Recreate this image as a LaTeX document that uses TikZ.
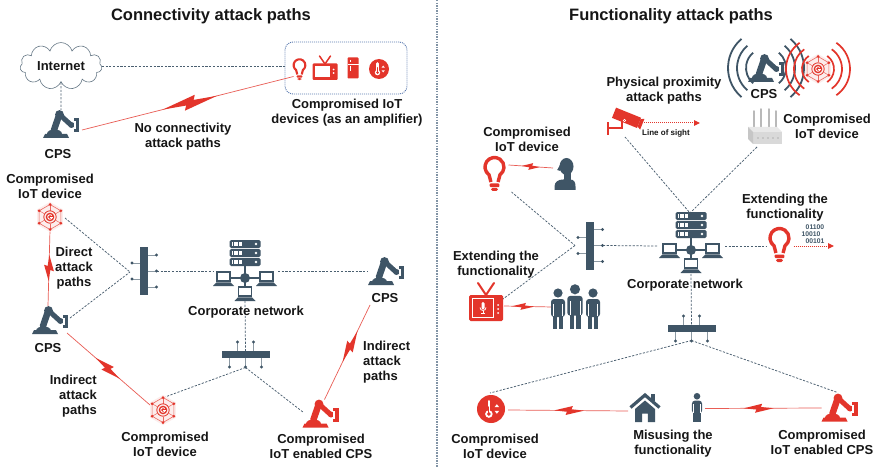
\documentclass[tikz,border=0pt]{standalone}
\usepackage{fontspec}
\setmainfont{Liberation Sans}
\usetikzlibrary{calc,shapes.symbols,arrows.meta}

\definecolor{slate}{HTML}{3F5566}
\definecolor{alarm}{HTML}{E3352B}
\definecolor{wire}{HTML}{4A5F70}
\definecolor{rule}{HTML}{8193A5}
\definecolor{frame}{HTML}{5B7BB0}
\definecolor{ink}{HTML}{161616}

\tikzset{
  lbl/.style={font=\fontsize{13}{15}\selectfont\bfseries, text=ink, align=center, inner sep=0pt},
  ttl/.style={font=\fontsize{16.5}{19}\selectfont\bfseries, text=ink, inner sep=0pt},
  small/.style={font=\fontsize{8}{9}\selectfont\bfseries, text=ink, inner sep=0pt},
  bits/.style={font=\fontsize{6.8}{8}\selectfont\bfseries, text=slate, inner sep=0pt},
  spot/.style args={#1x#2}{minimum width=#1, minimum height=#2, inner sep=0pt, outer sep=0pt},
  link/.style={draw=wire, line width=0.75pt, dash pattern=on 2.2pt off 1.5pt},
  zap/.style={draw=alarm!80, line width=0.7pt},
  sight/.style={draw=alarm, line width=1pt, dash pattern=on 1pt off 1pt, -{Triangle[length=6pt,width=5.5pt]}},
  divider/.style={draw=rule, line width=2.2pt, dash pattern=on 1.5pt off 1.1pt},
  % lightning bolt laid along a connector
  pics/bolt/.style args={#1/#2}{code={
    \fill[alarm] (-0.5*#1,0) -- (0.12*#1,-0.5*#2) -- (0.04*#1,0.18*#2) -- cycle;
    \fill[alarm] (0.5*#1,0) -- (-0.12*#1,0.5*#2) -- (-0.04*#1,-0.18*#2) -- cycle;
  }},
  % industrial robot arm
  pics/robot/.style={code={
    \fill[#1] (-18,14) -- (8,14) -- (6,10) -- (-16,10) -- cycle;
    \fill[#1] (-14.5,10.5) .. controls (-14.5,4.5) and (0.5,4.5) .. (0.5,10.5) -- cycle;
    \draw[#1, line width=6.5pt, line cap=round] (-7,6) -- (-2,-8.5);
    \fill[#1] (-1.5,-9.5) circle (4.4);
    \draw[#1, line width=5pt, line cap=round] (-1.5,-9.5) -- (10,1);
    \fill[#1] (10.5,1) circle (3);
    \fill[#1] (12.5,-5.5) rectangle (18,8);
    \fill[white] (12.5,-2.5) rectangle (14.8,5);
  }},
  % hexagonal IoT node
  pics/hexnode/.style={code={
    \fill[alarm!9] (90:15) -- (30:15) -- (-30:15) -- (-90:15) -- (-150:15) -- (150:15) -- cycle;
    \draw[alarm!75, line width=0.6pt] (90:12.5) -- (30:12.5) -- (-30:12.5) -- (-90:12.5) -- (-150:12.5) -- (150:12.5) -- cycle;
    \foreach \a in {90,30,-30,-90,-150,150}{
      \draw[alarm!75, line width=0.5pt] (\a:12.5) -- (\a:6.5);
      \fill[alarm] (\a:12.5) circle (1.5);
    }
    \draw[alarm, line width=0.8pt] (0,0) circle (6.2);
    \fill[alarm] (0,0) circle (4.3);
    \draw[white, line width=0.8pt] (20:2.3) arc[start angle=20, end angle=320, radius=2.3];
    \draw[white, line width=0.8pt] (-0.5,0) -- (2.8,0);
  }},
  % light bulb, argument = stroke width
  pics/bulb/.style={code={
    \draw[alarm, line width=#1, line join=round] (-3.6,8) -- (-5.45,0.78)
      arc[start angle=125, end angle=415, radius=9.5] -- (3.6,8);
    \fill[alarm, rounded corners=1pt] (-4.8,9.5) rectangle (4.8,13.2);
    \fill[alarm, rounded corners=1.5pt] (-3.4,13.8) rectangle (3.4,17);
  }},
  pics/tvset/.style={code={
    \draw[alarm, line width=1.5pt, line cap=round] (0,-7) -- (-5.5,-15) (0,-7) -- (5.5,-15);
    \fill[alarm, rounded corners=1pt] (-12.5,-7.5) rectangle (12.5,9);
    \fill[white] (-10,-4.5) rectangle (5,6.5);
    \fill[white] (8.6,-1.5) circle (0.9) (8.6,2) circle (0.9);
  }},
  pics/tvmic/.style={code={
    \draw[alarm, line width=2pt, line cap=round] (0,-13) -- (-8,-25) (0,-13) -- (8,-25);
    \fill[alarm, rounded corners=1.5pt] (-17,-13) rectangle (17,13);
    \draw[white, line width=1pt] (-13.5,-9.5) rectangle (7.5,9.5);
    \fill[white, rounded corners=1.4pt] (-4.5,-6) rectangle (-1.5,1.5);
    \draw[white, line width=0.8pt] (-6,-0.5) arc[start angle=180, end angle=0, radius=3];
    \draw[white, line width=0.8pt] (-3,2.5) -- (-3,5.5) (-5,5.5) -- (-1,5.5);
    \fill[white] (12,-3) circle (1) (12,1) circle (1) (12,5) circle (1);
  }},
  pics/fridge/.style={code={
    \fill[alarm, rounded corners=0.8pt] (-5.5,-10.5) rectangle (5.5,10.5);
    \draw[white, line width=0.8pt] (-5.5,-3.5) -- (5.5,-3.5);
    \draw[white, line width=0.9pt] (-3,-8) -- (-3,-5.5) (-3,-1.5) -- (-3,3);
  }},
  pics/thermo/.style={code={
    \fill[alarm] (0,0) circle (10);
    \draw[white, line width=2.8pt, line cap=round] (-1.5,-5.5) -- (-1.5,2);
    \fill[white] (-1.5,3.6) circle (2.7);
    \draw[alarm, line width=0.9pt, line cap=round] (-1.5,-1.5) -- (-1.5,3);
    \fill[alarm] (-1.5,3.6) circle (1.4);
    \fill[white] (4.2,-3.4) -- (5.8,-1.4) -- (2.6,-1.4) -- cycle;
    \fill[white] (4.2,3.4) -- (5.8,1.4) -- (2.6,1.4) -- cycle;
  }},
  % server rack with three laptops around a hub
  pics/corpnet/.style={code={
    \foreach \t in {-38,-29,-20}{
      \fill[slate, rounded corners=1.5pt] (-15.5,\t) rectangle (15.5,\t+8);
      \foreach \vv in {-12.5,-11.2,...,-3}{\draw[white, line width=0.45pt] (\vv,\t+2) -- (\vv,\t+6);}
      \fill[white] (11,\t+4) circle (1.4);
    }
    \draw[slate, line width=2.2pt] (0,-12) -- (0,9) (-15,0) -- (15,0);
    \fill[slate] (0,0) circle (5);
    \foreach \px/\py in {-21.5/-6, 21.5/-6, 0/9}{
      \draw[slate, fill=white, line width=1.2pt] (\px-6.5,\py) rectangle (\px+6.5,\py+9);
      \fill[slate] (\px-7,\py+10.3) -- (\px+7,\py+10.3) -- (\px+10.5,\py+14) -- (\px-10.5,\py+14) -- cycle;
    }
  }},
  pics/vswitch/.style={code={
    \foreach \py in {-16,0,16}{\draw[slate!60, line width=0.6pt] (4,\py) -- (12.5,\py); \fill[slate] (12.5,\py) circle (1.6);}
    \foreach \py in {-8,8}{\draw[slate!60, line width=0.6pt] (-4,\py) -- (-12,\py); \fill[slate] (-12,\py) circle (1.6);}
    \fill[slate] (-4,-24) rectangle (4,24);
  }},
  pics/hswitch/.style={code={
    \foreach \px in {-8,8}{\draw[slate!60, line width=0.6pt] (\px,-3.5) -- (\px,-12.5); \fill[slate] (\px,-12.5) circle (1.6);}
    \foreach \px in {-16,0,16}{\draw[slate!60, line width=0.6pt] (\px,3.5) -- (\px,12.5); \fill[slate] (\px,12.5) circle (1.6);}
    \fill[slate] (-24,-3.5) rectangle (24,3.5);
  }},
  pics/bust/.style={code={
    \fill[slate] (-10.5,16) -- (-10.5,12.5) .. controls (-10.5,7.5) and (-6,5.5) .. (-2,5.5) -- (5,5.5)
      .. controls (9,5.5) and (10.5,8) .. (10.5,12.5) -- (10.5,16) -- cycle;
    \fill[slate] (-1.5,-1) rectangle (5.5,6);
    \fill[slate] (1.5,-7.5) ellipse [x radius=7, y radius=8.5];
    \fill[slate] (-5,-9) -- (-7.8,-4) -- (-4.5,-3) -- cycle;
  }},
  pics/person/.style={code={
    \fill[slate] (0,-17) circle (4.6);
    \fill[slate, rounded corners=3pt] (-7,-11) rectangle (7,7);
    \fill[slate] (-5,5) rectangle (-0.6,19);
    \fill[slate] (0.6,5) rectangle (5,19);
    \draw[white, line width=0.6pt] (-4.5,-6) -- (-4.5,6) (4.5,-6) -- (4.5,6);
  }},
  pics/house/.style={code={
    \fill[slate] (6,-13.5) rectangle (9.5,-7);
    \draw[slate, line width=3.2pt, line join=miter] (-14.5,0) -- (0,-12.5) -- (14.5,0);
    \fill[slate] (-10,1.5) -- (0,-7) -- (10,1.5) -- (10,14.5) -- (2.8,14.5) -- (2.8,6) -- (-2.8,6)
      -- (-2.8,14.5) -- (-10,14.5) -- cycle;
  }},
  pics/camera/.style={code={
    \fill[alarm] (-20,4) rectangle (-17.6,17);
    \fill[alarm] (-17.6,9) rectangle (-4.5,11.2);
    \fill[alarm] (-6,2) rectangle (-3.8,11.2);
    \begin{scope}[rotate=-22]
      \fill[alarm] (-14,-5.5) rectangle (13,5.5);
      \fill[alarm] (13,-4) -- (16.5,-5.8) -- (16.5,5.8) -- (13,4) -- cycle;
    \end{scope}
    \draw[white, line width=0.6pt] (-2.5,2.5) circle (1.3);
  }},
  pics/router/.style={code={
    \foreach \px/\h in {-11/17,-4/19,4/19,11/17}{\draw[gray!55, line width=1.5pt, line cap=round] (\px,-1) -- (\px,-\h);}
    \fill[gray!18] (-17,-1) -- (12,-1) -- (17,4) -- (-12,4) -- cycle;
    \fill[gray!30] (-12,4) -- (17,4) -- (17,16) -- (-12,16) -- cycle;
    \fill[gray!45] (-17,-1) -- (-12,4) -- (-12,16) -- (-17,11) -- cycle;
    \foreach \px in {-7,-2,3,8,13}{\fill[gray!60] (\px,10) circle (0.8);}
  }},
}

\begin{document}
\begin{tikzpicture}[x=1pt, y=-1pt]
\useasboundingbox (0,0) rectangle (876,468);
\fill[white] (0,0) rectangle (876,468);

% ---------- frame ----------
\node[ttl] (title-conn) at (211,16) {Connectivity attack paths};
\node[ttl] (title-func) at (671,16) {Functionality attack paths};
\coordinate (split-top) at (437,0);
\coordinate (split-bot) at (437,468);
\draw[divider] (split-top) -- (split-bot);

% ---------- connectivity: icon anchors ----------
\node[cloud, cloud puffs=11, aspect=2, draw=wire!85, line width=0.6pt, fill=white,
      minimum width=82, minimum height=44, inner sep=0pt,
      font=\fontsize{13}{15}\selectfont\bfseries, text=ink] (internet) at (61,66) {Internet};
\node[draw=frame, line width=0.9pt, dash pattern=on 1pt off 1pt, rounded corners=8pt,
      spot=122x52] (iotbox) at (346,68) {};
\node[spot=16x24] (bulbA) at (299.5,69.5) {};
\node[spot=25x26] (tvA) at (325,71) {};
\node[spot=11x21] (fridgeA) at (353,68) {};
\node[spot=20x20] (thermoA) at (379,69) {};
\node[spot=36x28] (cpsA) at (61,124) {};
\node[spot=28x28] (hexB) at (50,217) {};
\node[spot=36x28] (cpsB) at (50,320) {};
\node[spot=26x48] (swL) at (144,271) {};
\node[spot=66x60] (netL) at (245,278) {};
\node[spot=36x28] (cpsC) at (386,271) {};
\node[spot=48x26] (swB) at (245.5,354.5) {};
\node[spot=28x28] (hexC) at (163,410) {};
\node[spot=36x28] (cpsD) at (320.5,413.5) {};
\coordinate (swL-in) at ($(swL)+(-14,1)$);

% ---------- functionality: icon anchors ----------
\node[spot=40x28] (cam) at (627,118) {};
\node[spot=36x28] (cpsW) at (766,68) {};
\node[spot=28x28] (hexW) at (818,69) {};
\node[spot=34x36] (router) at (765,128) {};
\node[spot=25x36] (bulbR) at (494.5,174) {};
\node[spot=22x32] (bust) at (565,174) {};
\node[spot=26x48] (swR) at (590,245.5) {};
\node[spot=34x38] (tvR) at (486,308) {};
\node[spot=46x44] (trio) at (575,308) {};
\node[spot=66x60] (netR) at (691,250) {};
\node[spot=25x36] (bulbX) at (779.5,245) {};
\node[spot=48x26] (swRB) at (691.5,328.5) {};
\node[spot=28x28] (thermoB) at (491,409) {};
\node[spot=30x30] (house) at (645,407.5) {};
\node[spot=13x30] (man) at (697,408.5) {};
\node[spot=36x28] (cpsE) at (839.5,407.5) {};
\coordinate (swR-in) at ($(swR)+(-15,0)$);
\coordinate (los-end) at (700,123);
\coordinate (bits-end) at (834,246);

% ---------- dashed network links ----------
\draw[link] (internet.east) -- (iotbox.west |- internet.east);
\draw[link] (internet.south) -- (cpsA.north);
\draw[link] ($(hexB)+(15,1)$) -- (swL-in);
\draw[link] ($(cpsB)+(20,-2)$) -- (swL-in);
\draw[link] ($(swL)+(13,0)$) -- ($(netL)+(-32,-7)$);
\draw[link] ($(netL)+(33,-7)$) -- (cpsC.west);
\draw[link] ($(netL)+(0,23)$) -- ($(swB)+(0,-3.5)$);
\draw[link] ($(swB)+(0,13)$) -- ($(hexC)+(2,-13)$);
\draw[link] ($(swB)+(0,13)$) -- ($(cpsD)+(-17,-1)$);

\draw[link] ($(cam)+(-2,19)$) -- ($(netR)+(-1,-37)$);
\draw[link] ($(router)+(-8,19)$) -- ($(netR)+(-1,-37)$);
\draw[link] ($(bulbR)+(17,18)$) -- (swR-in);
\draw[link] (swR-in) -- ($(tvR)+(17,-9)$);
\draw[link] ($(swR)+(13,0)$) -- ($(netR)+(-34,-4)$);
\draw[link] ($(netR)+(34,-4)$) -- ($(bulbX)+(-13,1)$);
\draw[link] ($(netR)+(0,24)$) -- ($(swRB)+(0,-3.5)$);
\draw[link] ($(swRB)+(0,12)$) -- ($(thermoB)+(-1,-16)$);
\draw[link] ($(swRB)+(0,12)$) -- ($(cpsE)+(-2,-15)$);

% ---------- attack paths ----------
\draw[zap] ($(cpsA)+(21,6)$) -- ($(bulbA)+(-6,7)$);
\path ($(cpsA)+(21,6)$) -- ($(bulbA)+(-6,7)$) pic[pos=0.51, sloped]{bolt={56/13}};
\draw[zap] ($(hexB)+(0,13)$) -- ($(cpsB)+(-2,-14)$);
\path ($(hexB)+(0,13)$) -- ($(cpsB)+(-2,-14)$) pic[pos=0.5, sloped]{bolt={26/10}};
\draw[zap] ($(cpsB)+(17,13)$) -- ($(hexC)+(-13,-5)$);
\path ($(cpsB)+(17,13)$) -- ($(hexC)+(-13,-5)$) pic[pos=0.49, sloped]{bolt={32/10}};
\draw[zap] ($(cpsC)+(-16,34)$) -- ($(cpsD)+(4,-14)$);
\path ($(cpsC)+(-16,34)$) -- ($(cpsD)+(4,-14)$) pic[pos=0.44, sloped]{bolt={34/10}};

\draw[zap] ($(bulbR)+(14,-9)$) -- ($(bust)+(-12,-6)$);
\path ($(bulbR)+(14,-9)$) -- ($(bust)+(-12,-6)$) pic[pos=0.5, sloped]{bolt={18/7}};
\draw[zap] ($(tvR)+(18,-2)$) -- ($(trio)+(-23,-1)$);
\path ($(tvR)+(18,-2)$) -- ($(trio)+(-23,-1)$) pic[pos=0.4, sloped]{bolt={22/7}};
\draw[zap] ($(thermoB)+(17,1)$) -- ($(house)+(-17,3.5)$);
\path ($(thermoB)+(17,1)$) -- ($(house)+(-17,3.5)$) pic[pos=0.51, sloped]{bolt={30/9}};
\draw[zap] ($(man)+(8,0)$) -- ($(cpsE)+(-18,0.5)$);
\path ($(man)+(8,0)$) -- ($(cpsE)+(-18,0.5)$) pic[pos=0.46, sloped]{bolt={30/9}};

\draw[sight] ($(cam)+(17,5)$) -- (los-end);
\draw[sight] ($(bulbX)+(14,1)$) -- (bits-end);

% ---------- broadcast rings ----------
\foreach \r in {20,29,38}{
  \draw[slate, line width=1.8pt] ($(cpsW)+(130:\r)$) arc[start angle=130, end angle=230, radius=\r];
  \draw[slate, line width=1.8pt] ($(cpsW)+(-50:\r)$) arc[start angle=-50, end angle=50, radius=\r];
}
\foreach \r in {16,24,32}{
  \draw[alarm, line width=1.7pt] ($(hexW)+(125:\r)$) arc[start angle=125, end angle=235, radius=\r];
  \draw[alarm, line width=1.7pt] ($(hexW)+(-55:\r)$) arc[start angle=-55, end angle=55, radius=\r];
}

% ---------- icons ----------
\pic at (bulbA) [scale=0.62] {bulb=2.1pt};
\pic at (tvA) {tvset};
\pic at (fridgeA) {fridge};
\pic at (thermoA) {thermo};
\pic at (cpsA) {robot=slate};
\pic at (hexB) {hexnode};
\pic at (cpsB) {robot=slate};
\pic at (swL) {vswitch};
\pic at (netL) {corpnet};
\pic at (cpsC) {robot=slate};
\pic at (swB) {hswitch};
\pic at (hexC) {hexnode};
\pic at (cpsD) {robot=alarm};

\pic at (cam) {camera};
\pic at (cpsW) {robot=slate};
\pic at (hexW) {hexnode};
\pic at (router) {router};
\pic at (bulbR) {bulb=3.4pt};
\pic at (bust) {bust};
\pic at (swR) {vswitch};
\pic at (tvR) {tvmic};
\pic at ($(trio)+(-17,2)$) {person};
\pic at ($(trio)+(18,2)$) {person};
\pic at (trio) [scale=1.1] {person};
\pic at (netR) {corpnet};
\pic at (bulbX) {bulb=3.4pt};
\pic at (swRB) {hswitch};
\pic at (thermoB) [scale=1.4] {thermo};
\pic at (house) {house};
\pic at (man) [scale=0.72] {person};
\pic at (cpsE) {robot=alarm};

% ---------- labels ----------
\node[lbl] (lbl-amp) at (347,113) {Compromised IoT\\devices (as an amplifier)};
\node[lbl] (lbl-cpsA) at (58,154) {CPS};
\node[lbl] (lbl-noconn) at (183,137) {No connectivity\\attack paths};
\node[lbl] (lbl-iotB) at (50,186) {Compromised\\IoT device};
\node[lbl] (lbl-direct) at (74,268) {Direct\\attack\\paths};
\node[lbl] (lbl-netL) at (246,312) {Corporate network};
\node[lbl] (lbl-cpsC) at (385,298) {CPS};
\node[lbl] (lbl-cpsB) at (48,348) {CPS};
\node[lbl, align=right, anchor=east] (lbl-indL) at (97,396) {Indirect\\attack\\paths};
\node[lbl, align=left, anchor=west] (lbl-indR) at (363,362) {Indirect\\attack\\paths};
\node[lbl] (lbl-iotC) at (165,444) {Compromised\\IoT device};
\node[lbl] (lbl-cpsD) at (321,446) {Compromised\\IoT enabled CPS};

\node[lbl] (lbl-phys) at (664,91) {Physical proximity\\attack paths};
\node[small] (lbl-los) at (666,133.5) {Line of sight};
\node[lbl] (lbl-cpsW) at (764,94) {CPS};
\node[lbl] (lbl-iotW) at (827,126) {Compromised\\IoT device};
\node[lbl] (lbl-iotR) at (527,139) {Compromised\\IoT device};
\node[lbl] (lbl-extL) at (496,265) {Extending the\\functionality};
\node[lbl] (lbl-netR) at (685,285) {Corporate network};
\node[lbl] (lbl-extR) at (785,208) {Extending the\\functionality};
\node[bits] (bits1) at (815,227) {01100};
\node[bits] (bits2) at (811,234) {10010};
\node[bits] (bits3) at (815,241) {00101};
\node[lbl] (lbl-iotB2) at (495,446) {Compromised\\IoT device};
\node[lbl] (lbl-misuse) at (673,444) {Misusing the\\functionality};
\node[lbl] (lbl-cpsE) at (822,442) {Compromised\\IoT enabled CPS};
\end{tikzpicture}
\end{document}
